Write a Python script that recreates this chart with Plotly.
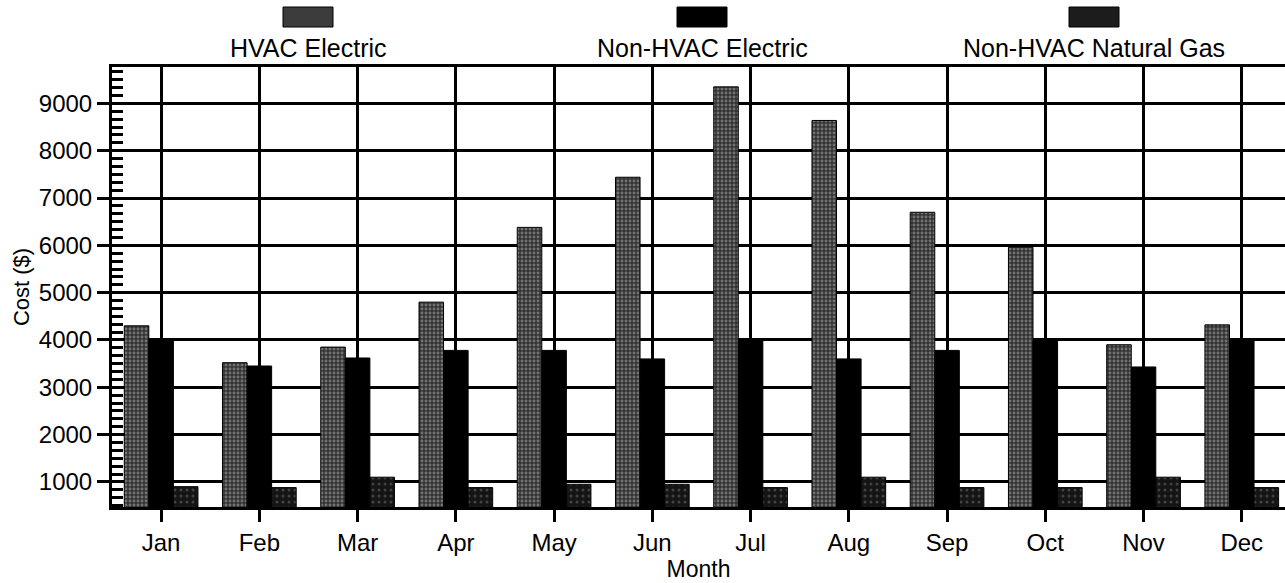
import plotly.graph_objects as go

# Monthly building energy costs
months = ["Jan", "Feb", "Mar", "Apr", "May", "Jun", "Jul", "Aug", "Sep", "Oct", "Nov", "Dec"]
hvac_electric = [4300, 3520, 3850, 4800, 6380, 7440, 9350, 8640, 6700, 5960, 3900, 4320]
non_hvac_electric = [4000, 3450, 3620, 3780, 3780, 3600, 3980, 3600, 3780, 3980, 3430, 3980]
non_hvac_gas = [900, 880, 1100, 880, 950, 950, 880, 1100, 880, 880, 1100, 880]

series_names = ["HVAC Electric", "Non-HVAC Electric", "Non-HVAC Natural Gas"]
y_ticks = [1000, 2000, 3000, 4000, 5000, 6000, 7000, 8000, 9000]

FONT = "Liberation Sans, Arial, sans-serif"
W, H = 1285, 583
ML, MR, MT, MB = 112, 0, 67, 76
PW, PH = W - ML - MR, H - MT - MB

fig = go.Figure()

fig.add_bar(
    x=months, y=hvac_electric, name=series_names[0],
    marker=dict(color="#333333", line=dict(color="black", width=1),
                pattern=dict(shape=".", fgcolor="#b4b4b4", bgcolor="#333333",
                             size=4, solidity=0.4)),
)
fig.add_bar(
    x=months, y=non_hvac_electric, name=series_names[1],
    marker=dict(color="#000000", line=dict(color="black", width=1)),
)
fig.add_bar(
    x=months, y=non_hvac_gas, name=series_names[2],
    marker=dict(color="#141414", line=dict(color="black", width=1),
                pattern=dict(shape=".", fgcolor="#707070", bgcolor="#141414",
                             size=6, solidity=0.2)),
)


def px_x(px):
    return (px - ML) / PW


def px_y(py):
    return (H - MB - py) / PH


# Legend: swatch above each label
legend_items = [
    (308, series_names[0], "#3c3c3c"),
    (702, series_names[1], "#000000"),
    (1094, series_names[2], "#1c1c1c"),
]
shapes = []
annotations = []
for cx, label, fill in legend_items:
    shapes.append(dict(
        type="rect", xref="paper", yref="paper",
        x0=px_x(cx - 25), x1=px_x(cx + 25), y0=px_y(27), y1=px_y(7),
        fillcolor=fill, line=dict(color="black", width=1),
    ))
    annotations.append(dict(
        x=px_x(cx), y=px_y(48), xref="paper", yref="paper",
        text=label, showarrow=False, xanchor="center", yanchor="middle",
        font=dict(family=FONT, size=25, color="black"),
    ))

fig.update_layout(
    width=W, height=H,
    margin=dict(l=ML, r=MR, t=MT, b=MB, pad=0),
    paper_bgcolor="white", plot_bgcolor="white",
    barmode="group", bargap=0.25, bargroupgap=0,
    showlegend=False,
    shapes=shapes, annotations=annotations,
    font=dict(family=FONT, color="black"),
)

fig.update_xaxes(
    range=[-0.5, 11.44],
    showline=True, linecolor="black", linewidth=3, mirror=True,
    showgrid=True, gridcolor="black", gridwidth=3,
    ticks="outside", ticklen=12, tickwidth=3, tickcolor="black",
    tickfont=dict(family=FONT, size=24, color="black"),
    title=dict(text="Month", font=dict(family=FONT, size=23, color="black"), standoff=0),
)

fig.update_yaxes(
    range=[470, 9770],
    tickvals=y_ticks,
    showline=True, linecolor="black", linewidth=3,
    showgrid=True, gridcolor="black", gridwidth=3,
    zeroline=False,
    ticks="outside", ticklen=12, tickwidth=3, tickcolor="black",
    tickfont=dict(family=FONT, size=24, color="black"),
    minor=dict(ticks="inside", ticklen=11, tickwidth=3, tickcolor="black",
               tick0=0, dtick=1000 / 6, showgrid=False),
    title=dict(text="Cost ($)", font=dict(family=FONT, size=22, color="black"), standoff=4),
)

fig.write_html("out.html")
